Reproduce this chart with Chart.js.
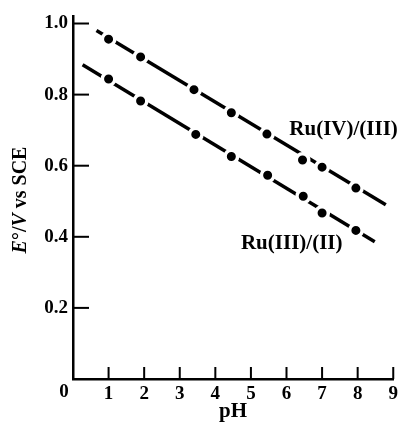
<!DOCTYPE html>
<html>
<head>
<meta charset="utf-8">
<script src="https://cdn.jsdelivr.net/npm/chart.js@4.4.1/dist/chart.umd.min.js"></script>
<style>
    html, body { margin: 0; padding: 0; background: #fff; }
    #wrap { width: 403px; height: 422px; }
</style>
</head>
<body>
<div id="wrap"><canvas id="myChart" width="403" height="422"></canvas></div>
<script>
// measured points, pH vs E (V vs SCE)
var phRu43 = [1.0, 1.9, 3.4, 4.45, 5.45, 6.45, 7.0, 7.95];
var eRu43  = [0.956, 0.906, 0.814, 0.749, 0.689, 0.616, 0.596, 0.537];

var phRu32 = [1.0, 1.9, 3.45, 4.45, 5.47, 6.47, 7.0, 7.95];
var eRu32  = [0.844, 0.782, 0.688, 0.626, 0.573, 0.514, 0.467, 0.418];

// fit lines (end points)
var fitPh43 = [0.66, 8.79];
var fitE43  = [0.98, 0.49];
var fitPh32 = [0.27, 8.48];
var fitE32  = [0.884, 0.386];

var xTicks = [0, 1, 2, 3, 4, 5, 6, 7, 8, 9];
var yTicks = [0, 0.2, 0.4, 0.6, 0.8, 1.0];

var serif = "'Liberation Serif', 'DejaVu Serif', serif";

function toPoints(xs, ys) {
    return xs.map(function(x, i) { return { x: x, y: ys[i] }; });
}

// inward tick marks
var innerTicks = {
    id: 'innerTicks',
    afterDraw: function(chart) {
        var c = chart.ctx;
        var xs = chart.scales.x, ys = chart.scales.y;
        c.save();
        c.fillStyle = '#000';
        ys.ticks.forEach(function(t) {
            if (t.value === 0) return;
            var py = ys.getPixelForValue(t.value);
            c.fillRect(xs.left, py - 1, 16, 2);
        });
        xs.ticks.forEach(function(t) {
            if (t.value === 0) return;
            var px = xs.getPixelForValue(t.value);
            c.fillRect(px - 1, ys.bottom - 12, 2, 12);
        });
        c.restore();
    }
};

// shared "0", curve labels and y title
var extras = {
    id: 'extras',
    afterDraw: function(chart) {
        var ctx = chart.ctx;
        var xs = chart.scales.x, ys = chart.scales.y;
        var bottom = ys.bottom;

        ctx.save();
        ctx.fillStyle = '#000';
        ctx.font = 'bold 19px ' + serif;
        ctx.textAlign = 'center';
        ctx.textBaseline = 'top';
        ctx.fillText('0', xs.getPixelForValue(0) - 9, bottom + 4);

        ctx.font = 'bold 21px ' + serif;
        ctx.textAlign = 'left';
        ctx.textBaseline = 'middle';
        ctx.fillText('Ru(IV)/(III)', xs.getPixelForValue(6.08), ys.getPixelForValue(0.701));
        ctx.fillText('Ru(III)/(II)', xs.getPixelForValue(4.72), ys.getPixelForValue(0.38));

        // y title with italic E and V
        var parts = [
            ['E', 'italic bold 20px '],
            ['\u00b0/', 'bold 20px '],
            ['V', 'italic bold 20px '],
            [' vs SCE', 'bold 20px ']
        ];
        var total = 0;
        parts.forEach(function(p) { ctx.font = p[1] + serif; total += ctx.measureText(p[0]).width; });
        ctx.translate(21, 200);
        ctx.rotate(-Math.PI / 2);
        var cx = -total / 2;
        parts.forEach(function(p) {
            ctx.font = p[1] + serif;
            ctx.fillText(p[0], cx, 0);
            cx += ctx.measureText(p[0]).width;
        });
        ctx.restore();
    }
};

var ctx = document.getElementById('myChart').getContext('2d');

var myChart = new Chart(ctx, {
    type: 'scatter',
    data: {
        datasets: [
            {
                label: 'Ru(IV)/(III)',
                data: toPoints(phRu43, eRu43),
                showLine: false,
                pointRadius: 6.25,
                pointBackgroundColor: '#000',
                pointBorderColor: '#fff',
                pointBorderWidth: 3.5
            },
            {
                label: 'Ru(III)/(II)',
                data: toPoints(phRu32, eRu32),
                showLine: false,
                pointRadius: 6.25,
                pointBackgroundColor: '#000',
                pointBorderColor: '#fff',
                pointBorderWidth: 3.5
            },
            {
                label: 'fit IV/III',
                data: toPoints(fitPh43, fitE43),
                showLine: true,
                borderColor: '#000',
                borderWidth: 3.5,
                pointRadius: 0
            },
            {
                label: 'fit III/II',
                data: toPoints(fitPh32, fitE32),
                showLine: true,
                borderColor: '#000',
                borderWidth: 3.5,
                pointRadius: 0
            }
        ]
    },
    options: {
        responsive: false,
        animation: false,
        layout: { padding: { top: 13, right: 6, left: 0, bottom: 0 } },
        plugins: {
            legend: { display: false },
            tooltip: { enabled: false }
        },
        scales: {
            x: {
                type: 'linear',
                min: 0,
                max: 9,
                afterBuildTicks: function(s) { s.ticks = xTicks.map(function(v) { return { value: v }; }); },
                afterFit: function(s) { s.height = 43; },
                grid: { drawOnChartArea: false, drawTicks: false },
                border: { color: '#000', width: 2.5 },
                ticks: {
                    color: '#000',
                    padding: 4,
                    font: { family: serif, size: 19, weight: 'bold' },
                    callback: function(v) { return v === 0 ? '' : v; }
                },
                title: {
                    display: true,
                    text: 'pH',
                    color: '#000',
                    padding: { top: 0, bottom: 0 },
                    font: { family: serif, size: 21, weight: 'bold', lineHeight: 1 }
                }
            },
            y: {
                type: 'linear',
                min: 0,
                max: 1.02,
                afterBuildTicks: function(s) { s.ticks = yTicks.map(function(v) { return { value: v }; }); },
                afterFit: function(s) { s.width = 73; },
                grid: { drawOnChartArea: false, drawTicks: false },
                border: { color: '#000', width: 2.5 },
                ticks: {
                    color: '#000',
                    padding: 5,
                    font: { family: serif, size: 19, weight: 'bold' },
                    callback: function(v) { return v === 0 ? '' : v.toFixed(1); }
                }
            }
        }
    },
    plugins: [innerTicks, extras]
});
</script>
</body>
</html>
